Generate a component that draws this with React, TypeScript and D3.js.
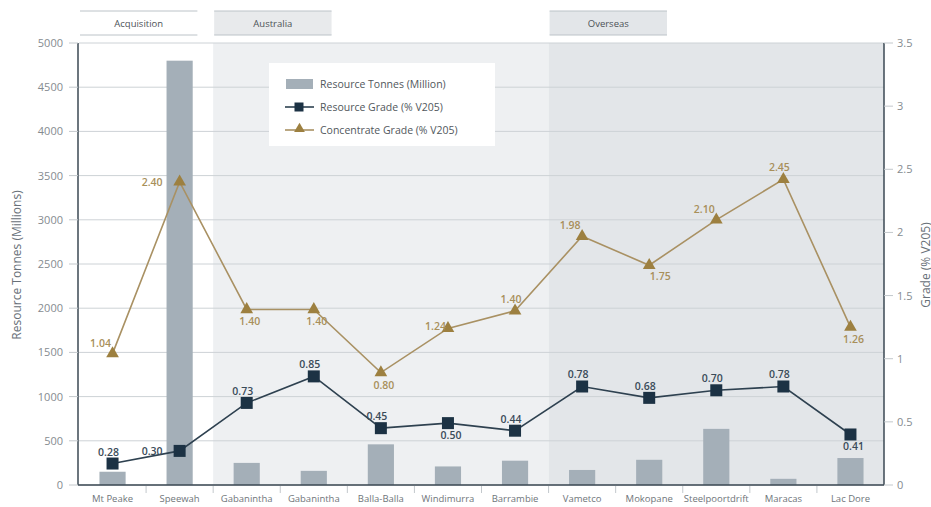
import React from "react";
import * as d3 from "d3";

const categories = [
  ["Mt Peake", "Tivan"],
  ["Speewah", "Tivan"],
  ["Gabanintha", "AVL"],
  ["Gabanintha", "TMT"],
  ["Balla-Balla", "Todd"],
  ["Windimurra", "Atlantic"],
  ["Barrambie", "Neometals"],
  ["Vametco", "Bushveld"],
  ["Mokopane", "Bushveld"],
  ["Steelpoortdrift", "SPR VR"],
  ["Maracas", "Largo"],
  ["Lac Dore", "VanCorp"],
];
const resourceTonnes = [150, 4800, 250, 160, 460, 210, 275, 170, 285, 635, 70, 305];
const resourceGrade = [0.17, 0.27, 0.65, 0.86, 0.45, 0.49, 0.43, 0.78, 0.69, 0.75, 0.78, 0.4];
const resourceGradeLabels = ["0.28", "0.30", "0.73", "0.85", "0.45", "0.50", "0.44", "0.78", "0.68", "0.70", "0.78", "0.41"];
const resourceLabelPlace = ["above", "left", "above", "above", "above", "below", "above", "above", "above", "above", "above", "below"];
const concentrateGrade = [1.04, 2.4, 1.39, 1.39, 0.89, 1.24, 1.38, 1.97, 1.74, 2.1, 2.42, 1.25];
const concentrateGradeLabels = ["1.04", "2.40", "1.40", "1.40", "0.80", "1.24", "1.40", "1.98", "1.75", "2.10", "2.45", "1.26"];
const concentrateLabelPlace = ["aboveLeft", "left", "below", "below", "below", "leftNear", "above", "aboveLeft", "belowRight", "aboveLeft", "above", "below"];
const leftTicks = [0, 500, 1000, 1500, 2000, 2500, 3000, 3500, 4000, 4500, 5000];
const rightTicks = [0, 0.5, 1, 1.5, 2, 2.5, 3, 3.5];
const regions = [
  { name: "Acquisition", start: 0, end: 1, fill: "#ffffff", header: "none" },
  { name: "Australia", start: 2, end: 6, fill: "#eef0f2", header: "#e8eaec" },
  { name: "Overseas", start: 7, end: 11, fill: "#e3e6e9", header: "#e3e6e9" },
];

const FONT = "'Open Sans', 'DejaVu Sans', sans-serif";
const BAR = "#a4afb8";
const NAVY = "#1c3244";
const NAVY_LINE = "#2e4150";
const GOLD = "#9d8040";
const GOLD_LINE = "#a99163";
const GOLD_TEXT = "#a88f5a";

const offsets: Record<string, { dx: number; dy: number; anchor: string }> = {
  above: { dx: -4, dy: -8, anchor: "middle" },
  below: { dx: 3, dy: 16, anchor: "middle" },
  left: { dx: -17, dy: 4, anchor: "end" },
  leftNear: { dx: -2, dy: 2, anchor: "end" },
  aboveLeft: { dx: -12, dy: -7, anchor: "middle" },
  belowRight: { dx: 11, dy: 15, anchor: "middle" },
};

export default function App() {
  const W = 931, H = 507;
  const left = 79, right = 884, top = 43, bottom = 485;
  const names = categories.map((c, i) => String(i));
  const x = d3.scaleBand().domain(names).range([left, right]).padding(0);
  const step = x.step();
  const barW = step * 0.39;
  const yL = d3.scaleLinear().domain([0, 5000]).range([bottom, top]);
  const yR = d3.scaleLinear().domain([0, 3.5]).range([bottom, top]);
  const cx = (i: number) => (x(String(i)) as number) + step / 2;

  const resLine = d3.line<number>().x((d, i) => cx(i)).y((d) => yR(d));
  const tri = d3.symbol().type(d3.symbolTriangle).size(70)();

  return (
    <svg width={W} height={H} style={{ position: "absolute", left: 0, top: 0, background: "#fff" }} fontFamily={FONT}>
      {/* region backgrounds */}
      {regions.map((r) => (
        <rect key={r.name} x={x(String(r.start))} y={top} width={(x(String(r.end)) as number) + step - (x(String(r.start)) as number)} height={bottom - top} fill={r.fill} />
      ))}
      {/* headers */}
      {regions.map((r) => {
        const x0 = (x(String(r.start)) as number) + 1;
        const w = step * 1.75;
        return (
          <g key={"h" + r.name}>
            <rect x={x0} y={11} width={w} height={24} fill={r.header === "none" ? "#fff" : r.header} />
            <line x1={x0} x2={x0 + w} y1={11} y2={11} stroke="#bcc3c8" strokeWidth={1} />
            <line x1={x0} x2={x0 + w} y1={35} y2={35} stroke="#bcc3c8" strokeWidth={1} />
            <text x={x0 + w / 2} y={26.5} textAnchor="middle" fontSize={9.5} fill="#4d5257">{r.name}</text>
          </g>
        );
      })}
      {/* gridlines */}
      {leftTicks.map((t) => (
        <line key={"g" + t} x1={left} x2={right} y1={yL(t)} y2={yL(t)} stroke="#cdd2d6" strokeWidth={1} />
      ))}
      {/* bars */}
      {resourceTonnes.map((v, i) => (
        <rect key={"b" + i} x={cx(i) - barW / 2} y={yL(v)} width={barW} height={bottom - yL(v)} fill={BAR} />
      ))}
      {/* axes */}
      <line x1={left - 1} x2={left - 1} y1={top} y2={bottom} stroke="#3b4853" strokeWidth={1.5} />
      <line x1={right} x2={right} y1={top} y2={bottom} stroke="#3b4853" strokeWidth={1.5} />
      <line x1={left - 1} x2={right} y1={bottom} y2={bottom} stroke="#3b4853" strokeWidth={1.5} />
      {leftTicks.map((t) => (
        <g key={"lt" + t}>
          <line x1={left - 10} x2={left - 1} y1={yL(t)} y2={yL(t)} stroke="#c3c8cc" />
          <text x={63} y={yL(t) + 4} textAnchor="end" fontSize={11} fill="#858b90">{t}</text>
        </g>
      ))}
      {rightTicks.map((t) => (
        <g key={"rt" + t}>
          <line x1={right} x2={right + 9} y1={yR(t)} y2={yR(t)} stroke="#c3c8cc" />
          <text x={897} y={yR(t) + 4} textAnchor="start" fontSize={11} fill="#858b90">{t}</text>
        </g>
      ))}
      {names.slice(1).map((n) => (
        <line key={"xt" + n} x1={x(n)} x2={x(n)} y1={bottom + 1} y2={bottom + 8} stroke="#c3c8cc" />
      ))}
      {categories.map((c, i) => (
        <text key={"xl" + i} x={cx(i)} textAnchor="middle" fontSize={9.5} fill="#6f757a">
          <tspan x={cx(i)} y={502}>{c[0]}</tspan>
          <tspan x={cx(i)} y={514}>{c[1]}</tspan>
        </text>
      ))}
      {/* axis titles */}
      <text transform={`translate(21,265) rotate(-90)`} textAnchor="middle" fontSize={12} fill="#687078">Resource Tonnes (Millions)</text>
      <text transform={`translate(930,265) rotate(-90)`} textAnchor="middle" fontSize={12} fill="#687078">Grade (% V205)</text>
      {/* lines */}
      <path d={resLine(concentrateGrade) as string} fill="none" stroke={GOLD_LINE} strokeWidth={1.6} />
      <path d={resLine(resourceGrade) as string} fill="none" stroke={NAVY_LINE} strokeWidth={1.6} />
      {concentrateGrade.map((v, i) => (
        <path key={"tr" + i} d={tri as string} transform={`translate(${cx(i)},${yR(v)})`} fill={GOLD} />
      ))}
      {resourceGrade.map((v, i) => (
        <rect key={"sq" + i} x={cx(i) - 6} y={yR(v) - 6} width={12} height={12} fill={NAVY} />
      ))}
      {/* labels */}
      {resourceGrade.map((v, i) => {
        const o = offsets[resourceLabelPlace[i]];
        return (
          <text key={"rl" + i} x={cx(i) + o.dx} y={yR(v) + o.dy} textAnchor={o.anchor} fontSize={10.5} fontWeight={600} fill="#3a4b59">{resourceGradeLabels[i]}</text>
        );
      })}
      {concentrateGrade.map((v, i) => {
        const o = offsets[concentrateLabelPlace[i]];
        return (
          <text key={"cl" + i} x={cx(i) + o.dx} y={yR(v) + o.dy} textAnchor={o.anchor} fontSize={10.5} fontWeight={600} fill={GOLD_TEXT}>{concentrateGradeLabels[i]}</text>
        );
      })}
      {/* legend */}
      <g>
        <rect x={269} y={63} width={226} height={83} fill="#ffffff" />
        <rect x={286} y={79} width={27} height={10} fill={BAR} />
        <text x={320} y={88} fontSize={10.5} fill="#51575c">Resource Tonnes (Million)</text>
        <line x1={285} x2={314} y1={107} y2={107} stroke={NAVY_LINE} strokeWidth={1.6} />
        <rect x={294.5} y={102.5} width={9} height={9} fill={NAVY} />
        <text x={320} y={111} fontSize={10.5} fill="#51575c">Resource Grade (% V205)</text>
        <line x1={285} x2={314} y1={130} y2={130} stroke={GOLD_LINE} strokeWidth={1.6} />
        <path d={d3.symbol().type(d3.symbolTriangle).size(50)() as string} transform="translate(299.5,129)" fill={GOLD} />
        <text x={320} y={134} fontSize={10.5} fill="#51575c">Concentrate Grade (% V205)</text>
      </g>
    </svg>
  );
}
